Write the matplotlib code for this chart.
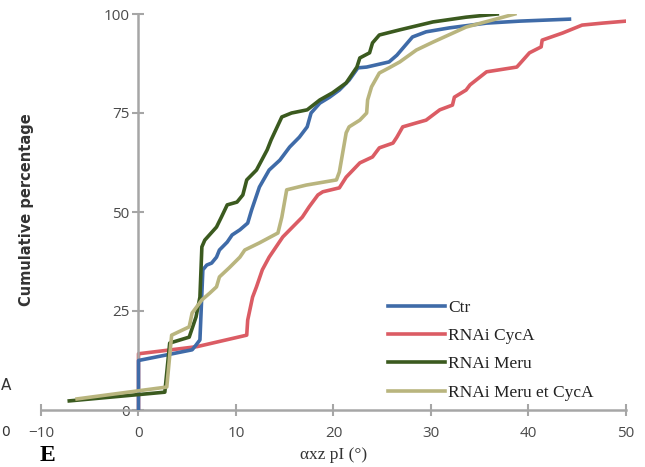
import matplotlib.pyplot as plt

# cumulative distributions (angle in deg, cumulative %)
ctr_x = [0, 0, 5.5, 5.9, 6.3, 6.6, 7.0, 7.5, 8.0, 8.3, 9.1, 9.6, 10.4, 11.2, 11.6, 12.4,
         13.4, 14.5, 15.5, 16.5, 17.3, 17.7, 18.6, 19.6, 20.6, 21.6, 22.5, 23.4, 25.7,
         26.5, 28.1, 29.5, 31.9, 35.7, 39.1, 44.2]
ctr_y = [0, 12.5, 15.2, 16.4, 17.7, 35.4, 36.6, 37.1, 38.6, 40.4, 42.4, 44.2, 45.5, 47.2,
         50.5, 56.3, 60.6, 63.1, 66.4, 68.9, 71.5, 75.0, 77.5, 79.0, 80.8, 83.3, 86.4,
         86.6, 87.9, 89.6, 94.2, 95.5, 96.5, 97.7, 98.2, 98.7]

cyca_x = [0, 0, 6.0, 11.1, 11.2, 11.7, 12.1, 12.7, 13.4, 14.8, 16.8, 17.5, 18.4, 18.9,
          20.6, 21.3, 22.7, 24.0, 24.7, 26.1, 26.5, 27.1, 28.5, 29.5, 30.9, 32.2, 32.4,
          33.6, 34.0, 35.7, 38.8, 40.1, 41.3, 41.4, 43.5, 45.5, 47.6, 50.0]
cyca_y = [0, 14.2, 16.0, 18.9, 22.7, 28.5, 31.1, 35.4, 38.6, 43.7, 48.7, 51.3, 54.3, 55.1,
          56.1, 58.8, 62.4, 63.9, 66.2, 67.4, 68.9, 71.5, 72.5, 73.2, 75.8, 77.0, 79.0,
          80.8, 82.1, 85.4, 86.6, 90.2, 91.7, 93.4, 95.2, 97.2, 97.7, 98.2]

meru_x = [-7.1, 2.7, 3.2, 5.2, 5.9, 6.3, 6.5, 6.8, 8.0, 8.5, 9.1, 10.1, 10.7, 11.1, 12.1,
          13.2, 13.6, 14.7, 15.7, 17.3, 18.6, 19.9, 21.3, 22.4, 22.7, 23.7, 24.0, 24.7,
          26.8, 30.2, 33.6, 36.8]
meru_y = [2.3, 4.5, 16.9, 18.4, 23.5, 28.5, 41.2, 42.9, 46.2, 48.7, 51.8, 52.5, 54.3,
          58.1, 60.6, 65.7, 68.2, 74.0, 75.0, 75.8, 78.3, 80.1, 82.6, 86.6, 88.9, 90.2,
          92.7, 94.7, 96.0, 98.0, 99.2, 100]

both_x = [-6.3, 2.9, 3.4, 5.2, 5.5, 6.5, 7.3, 8.0, 8.3, 9.3, 10.4, 10.9, 12.4, 14.3, 14.7,
          15.2, 17.2, 20.3, 20.6, 21.3, 21.6, 22.7, 23.4, 23.5, 23.9, 24.7, 25.7, 26.8,
          28.5, 30.2, 33.6, 38.6]
both_y = [2.8, 5.8, 18.9, 21.0, 24.5, 27.8, 29.5, 31.1, 33.6, 35.9, 38.6, 40.4, 42.2,
          44.7, 48.7, 55.6, 56.8, 58.1, 60.1, 70.0, 71.5, 73.2, 75.0, 78.3, 81.6, 85.1,
          86.4, 87.9, 90.9, 92.9, 96.7, 100]

x_ticks = [-10, 0, 10, 20, 30, 40, 50]
y_ticks = [0, 25, 50, 75, 100]

fig = plt.figure(figsize=(6.45, 4.67), dpi=100)
ax = fig.add_axes([41 / 645, 57 / 467, 585 / 645, 396 / 467])

lw = 2.6
ax.plot(ctr_x, ctr_y, color="#3F6BA8", lw=lw, label="Ctr", zorder=3)
ax.plot(cyca_x, cyca_y, color="#DB5C64", lw=lw, label="RNAi CycA", zorder=2)
ax.plot(meru_x, meru_y, color="#3B5A1F", lw=lw, label="RNAi Meru", zorder=3)
ax.plot(both_x, both_y, color="#B9B57E", lw=lw, label="RNAi Meru et CycA", zorder=4)

ax.set_xlim(-10, 50)
ax.set_ylim(0, 100)
ax.set_xticks(x_ticks)
ax.set_yticks(y_ticks)

gray = "#A6A6A6"
for side in ["top", "right"]:
    ax.spines[side].set_visible(False)
ax.spines["left"].set_position(("data", 0))
ax.spines["bottom"].set_position(("data", 0))
for side in ["left", "bottom"]:
    ax.spines[side].set_color(gray)
    ax.spines[side].set_linewidth(1.8)
ax.tick_params(direction="inout", length=9, width=1.5, color=gray,
               labelsize=11, labelcolor="#4a4a4a")
ax.tick_params(axis="y", pad=2)
ax.tick_params(axis="x", pad=7)
for lab in ax.get_xticklabels() + ax.get_yticklabels():
    lab.set_family(["Open Sans", "DejaVu Sans"])

ax.set_xlabel("\u03b1xz pI (\u00b0)", family=["Liberation Serif", "DejaVu Serif"],
              fontsize=12.5, color="#333333", labelpad=4)
fig.text(27 / 645, 1 - 210 / 467, "Cumulative percentage", rotation=90,
         ha="center", va="center", fontsize=10.5, fontweight="bold", color="#333333",
         family=["Liberation Sans Narrow", "DejaVu Sans"])

leg = ax.legend(loc="upper left", bbox_to_anchor=(372 / 645, 1 - 284 / 467),
                bbox_transform=fig.transFigure, frameon=False, handlelength=3.3,
                handletextpad=0.2, labelspacing=0.7,
                prop={"family": ["Liberation Serif", "DejaVu Serif"], "size": 12.5})
for t in leg.get_texts():
    t.set_color("#222222")

# bits of neighbouring panels left over in the crop
fig.text(1 / 645, 1 - 385 / 467, "A", fontsize=11, ha="left", va="center", color="#333333")
fig.text(1 / 645, 1 - 432 / 467, "0", fontsize=10, ha="left", va="center", color="#333333")
fig.text(40 / 645, 1 / 467, "E", fontsize=17, fontweight="bold", ha="left",
         va="bottom", family=["Liberation Serif", "DejaVu Serif"], color="black")

fig.savefig("out.png", dpi=100)
